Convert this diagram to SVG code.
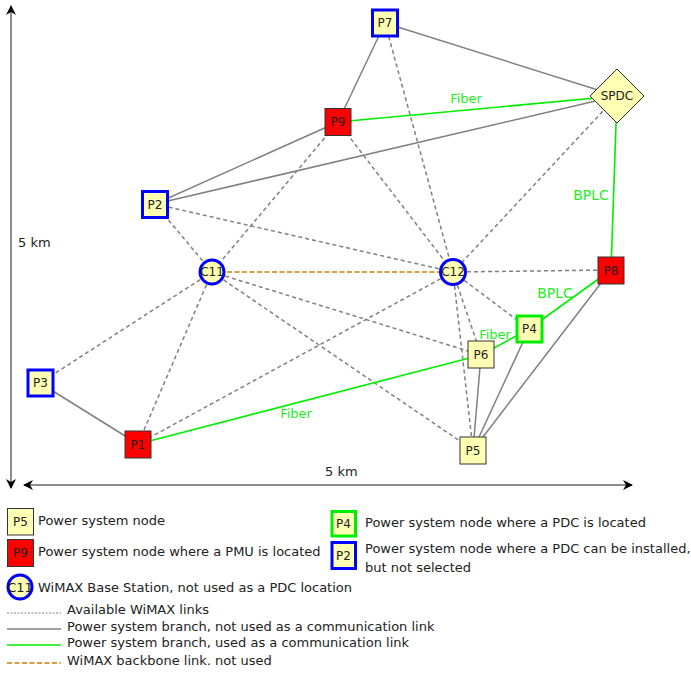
<svg xmlns="http://www.w3.org/2000/svg" width="691" height="677" viewBox="0 0 691 677">
<style>
text{font-family:"DejaVu Sans","Liberation Sans",sans-serif;fill:#222}
.lbl{font-size:12px;text-anchor:middle}
.leg{font-size:13px}
.glbl{font-size:13px;fill:#22ee22;text-anchor:middle}
.node{fill:#ffffb3;stroke:#333;stroke-width:1}
.pmu{fill:#ff0000;stroke:#333;stroke-width:1}
.cand{fill:#ffffb3;stroke:#0000ff;stroke-width:3}
.pdc{fill:#ffffb3;stroke:#00ee00;stroke-width:3}
.gray{stroke:#808080;stroke-width:1.5;fill:none}
.green{stroke:#00ee00;stroke-width:1.6;fill:none}
.wimax{stroke:#808080;stroke-width:1.5;stroke-dasharray:4 3;fill:none}
.bb{stroke:#d08000;stroke-width:1.6;stroke-dasharray:5 2.5;fill:none}
.axis{stroke:#666;stroke-width:1.5;fill:none}
</style>
<defs>
<marker id="ah" viewBox="0 0 10 10" refX="9" refY="5" markerWidth="10" markerHeight="10" markerUnits="userSpaceOnUse" orient="auto-start-reverse">
<path d="M0,0 L10,5 L0,10 L3,5 z" fill="#000"/>
</marker>
</defs>
<rect width="691" height="677" fill="#fff"/>

<g id="axes">
<line class="axis" x1="11" y1="6" x2="11" y2="488" marker-start="url(#ah)" marker-end="url(#ah)"/>
<line class="axis" x1="24" y1="485" x2="632" y2="485" marker-start="url(#ah)" marker-end="url(#ah)"/>
<text class="leg" x="18" y="247">5 km</text>
<text class="leg" x="325" y="476">5 km</text>
</g>

<g id="connectors">
<line class="wimax" x1="385" y1="23" x2="453" y2="272"/>
<line class="wimax" x1="338" y1="122" x2="212" y2="272"/>
<line class="wimax" x1="338" y1="122" x2="453" y2="272"/>
<line class="wimax" x1="155" y1="204" x2="212" y2="272"/>
<line class="wimax" x1="155" y1="204" x2="453" y2="272"/>
<line class="wimax" x1="617" y1="96" x2="453" y2="272"/>
<line class="wimax" x1="212" y1="272" x2="40" y2="383"/>
<line class="wimax" x1="212" y1="272" x2="138" y2="444"/>
<line class="wimax" x1="212" y1="272" x2="481" y2="355"/>
<line class="wimax" x1="212" y1="272" x2="473" y2="450"/>
<line class="wimax" x1="453" y1="272" x2="611" y2="270"/>
<line class="wimax" x1="453" y1="272" x2="529" y2="329"/>
<line class="wimax" x1="453" y1="272" x2="481" y2="355"/>
<line class="wimax" x1="453" y1="272" x2="473" y2="450"/>
<line class="wimax" x1="453" y1="272" x2="138" y2="444"/>
<line class="bb" x1="212" y1="272" x2="453" y2="272"/>
<line class="gray" x1="385" y1="23" x2="338" y2="122"/>
<line class="gray" x1="385" y1="23" x2="617" y2="96"/>
<line class="gray" x1="155" y1="204" x2="338" y2="122"/>
<line class="gray" x1="155" y1="204" x2="617" y2="96"/>
<line class="gray" x1="40" y1="383" x2="138" y2="444"/>
<line class="gray" x1="481" y1="355" x2="473" y2="450"/>
<line class="gray" x1="529" y1="329" x2="473" y2="450"/>
<line class="gray" x1="611" y1="270" x2="473" y2="450"/>
<line class="green" x1="338" y1="122" x2="617" y2="96"/>
<line class="green" x1="617" y1="96" x2="611" y2="270"/>
<line class="green" x1="611" y1="270" x2="529" y2="329"/>
<line class="green" x1="529" y1="329" x2="481" y2="355"/>
<line class="green" x1="481" y1="355" x2="138" y2="444"/>
<text class="glbl" x="466" y="103">Fiber</text>
<text class="glbl" x="591" y="200" style="font-size:14px">BPLC</text>
<text class="glbl" x="555" y="298" style="font-size:14px">BPLC</text>
<text class="glbl" x="495" y="339">Fiber</text>
<text class="glbl" x="296" y="418">Fiber</text>
</g>

<g id="P7"><rect class="cand" x="372.5" y="10" width="25" height="26"/><text class="lbl" x="385" y="27">P7</text></g>
<g id="SPDC"><polygon class="node" points="617,69 644,96 617,123 590,96"/><text class="lbl" x="617" y="100">SPDC</text></g>
<g id="P9"><rect class="pmu" x="325" y="108.5" width="26" height="27"/><text class="lbl" x="338" y="126">P9</text></g>
<g id="P2"><rect class="cand" x="142.5" y="191.5" width="25" height="26"/><text class="lbl" x="155" y="208.5">P2</text></g>
<g id="C11"><circle class="cand" cx="212" cy="272" r="12"/><text class="lbl" x="212" y="276">C11</text></g>
<g id="C12"><circle class="cand" cx="453" cy="272" r="12.5"/><text class="lbl" x="453" y="276">C12</text></g>
<g id="P8"><rect class="pmu" x="598" y="257" width="26" height="27"/><text class="lbl" x="611" y="274.5">P8</text></g>
<g id="P4"><rect class="pdc" x="517" y="316" width="25" height="26"/><text class="lbl" x="529.5" y="333">P4</text></g>
<g id="P6"><rect class="node" x="468" y="341" width="26" height="27"/><text class="lbl" x="481" y="358.5">P6</text></g>
<g id="P5"><rect class="node" x="460" y="437" width="26" height="27"/><text class="lbl" x="473" y="454.5">P5</text></g>
<g id="P3"><rect class="cand" x="28" y="370" width="25" height="26"/><text class="lbl" x="40.5" y="387">P3</text></g>
<g id="P1"><rect class="pmu" x="125" y="431" width="26" height="27"/><text class="lbl" x="138" y="448.5">P1</text></g>

<g id="legend">
<rect class="node" x="7.5" y="508.5" width="26" height="26.5"/><text class="lbl" x="20.5" y="526">P5</text>
<text class="leg" x="38" y="525">Power system node</text>
<rect class="pmu" x="7.5" y="539.5" width="26" height="27"/><text class="lbl" x="20.5" y="557">P9</text>
<text class="leg" x="38" y="555.5">Power system node where a PMU is located</text>
<circle class="cand" cx="20" cy="587" r="12"/><text class="lbl" x="20" y="591.5" style="font-size:13px">C11</text>
<text class="leg" x="38" y="591.5">WiMAX Base Station, not used as a PDC location</text>
<line x1="7" y1="613" x2="61" y2="613" stroke="#808080" stroke-width="1" stroke-dasharray="2 1.5"/>
<text class="leg" x="67" y="614">Available WiMAX links</text>
<line class="gray" x1="7" y1="629" x2="61" y2="629"/>
<text class="leg" x="67" y="631">Power system branch, not used as a communication link</text>
<line class="green" x1="7" y1="645" x2="61" y2="645"/>
<text class="leg" x="67" y="647">Power system branch, used as a communication link</text>
<line class="bb" x1="7" y1="663" x2="61" y2="663"/>
<text class="leg" x="67" y="665">WiMAX backbone link. not used</text>
<rect class="pdc" x="332" y="511.5" width="23.5" height="24.5"/><text class="lbl" x="343.5" y="528">P4</text>
<text class="leg" x="365" y="526.5">Power system node where a PDC is located</text>
<rect class="cand" x="332" y="542.5" width="23.5" height="26"/><text class="lbl" x="343.5" y="560">P2</text>
<text class="leg" x="365" y="553">Power system node where a PDC can be installed,</text>
<text class="leg" x="365" y="571.5">but not selected</text>
</g>
</svg>
